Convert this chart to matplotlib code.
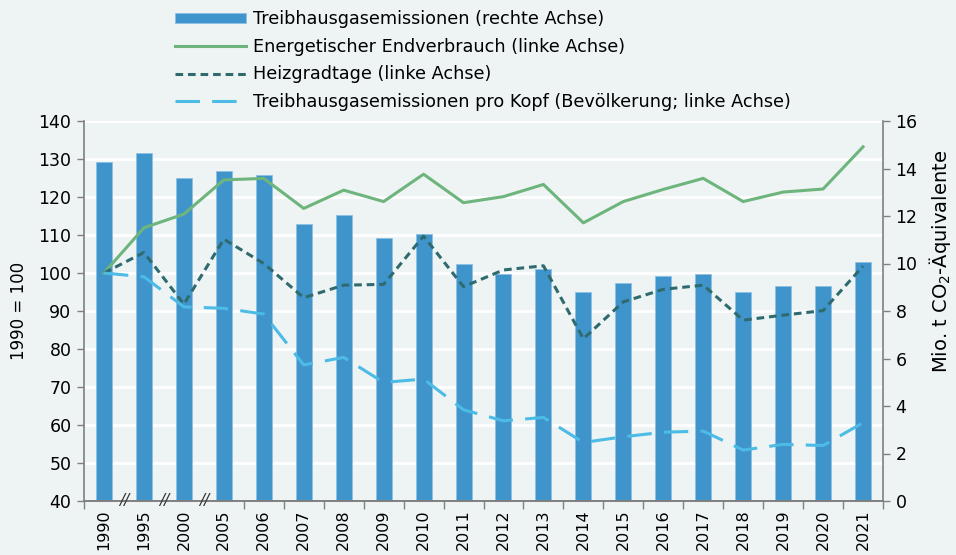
import matplotlib
matplotlib.use("Agg")
import matplotlib.pyplot as plt
import numpy as np

years = ["1990", "1995", "2000", "2005", "2006", "2007", "2008", "2009", "2010", "2011",
         "2012", "2013", "2014", "2015", "2016", "2017", "2018", "2019", "2020", "2021"]
emissions = [14.29, 14.65, 13.59, 13.89, 13.71, 11.66, 12.06, 11.06, 11.23, 10.0,
             9.54, 9.77, 8.81, 9.17, 9.47, 9.56, 8.8, 9.07, 9.07, 10.06]
endverbrauch = [100.0, 111.9, 115.5, 124.5, 124.9, 117.0, 121.8, 118.8, 126.0, 118.5,
                120.1, 123.3, 113.2, 118.8, 122.0, 124.9, 118.8, 121.3, 122.1, 133.2]
heizgradtage = [100.0, 105.4, 91.8, 108.9, 102.5, 93.5, 96.8, 97.0, 109.7, 96.4,
                100.8, 101.9, 82.7, 92.4, 95.7, 96.8, 87.6, 88.9, 90.1, 101.8]
pro_kopf = [100.0, 99.0, 91.1, 90.7, 89.2, 75.8, 77.8, 71.2, 72.1, 64.0,
            61.1, 62.0, 55.4, 56.9, 58.1, 58.4, 53.4, 54.9, 54.6, 60.6]
left_ticks = [40, 50, 60, 70, 80, 90, 100, 110, 120, 130, 140]
right_ticks = [0, 2, 4, 6, 8, 10, 12, 14, 16]

BG = "#EEF4F4"
BAR = "#3F95CB"
GREEN = "#6DB57C"
DARK = "#2F6B6E"
LIGHT = "#4CBBE6"
SPINE = "#7F7F7F"

plt.rcParams['font.family'] = ['DejaVu Sans']

fig = plt.figure(figsize=(9.56, 5.55), dpi=100, facecolor=BG)
ax = fig.add_axes([84/956, 54/555, 799/956, 380/555])
ax.set_facecolor(BG)
ax2 = ax.twinx()

x = np.arange(len(years))

bars = ax2.bar(x, emissions, width=0.4, color=BAR, edgecolor="#8CC0E3", linewidth=0.6,
               label="Treibhausgasemissionen (rechte Achse)", zorder=2)
ax2.set_ylim(0, 16)
ax2.set_yticks(right_ticks)

ax.set_zorder(ax2.get_zorder() + 1)
ax.patch.set_visible(False)
ax2.set_facecolor(BG)

for v in left_ticks:
    ax2.axhline((v - 40) / 100 * 16, color="white", lw=2, zorder=0)

l1, = ax.plot(x, endverbrauch, color=GREEN, lw=2.2, label="Energetischer Endverbrauch (linke Achse)")
l2, = ax.plot(x, heizgradtage, color=DARK, lw=2.2, dashes=(2.5, 1.6),
              label="Heizgradtage (linke Achse)")
l3, = ax.plot(x, pro_kopf, color=LIGHT, lw=2.2, dashes=(8, 4),
              label="Treibhausgasemissionen pro Kopf (Bevölkerung; linke Achse)")

ax.set_ylim(40, 140)
ax.set_yticks(left_ticks)
ax.set_xlim(-0.5, len(years) - 0.5)
ax.set_xticks(x)
ax.set_xticklabels(years, rotation=90, fontsize=11.5)
ax.tick_params(axis='x', length=0, pad=6)
minor = [-0.5] + [i + 0.5 for i in range(3, len(years))]
ax.set_xticks(minor, minor=True)
ax.tick_params(axis='x', which='minor', length=6, color=SPINE, width=1)
ax.tick_params(axis='y', labelsize=12.5, length=5, color=SPINE, width=1, pad=4)
ax2.tick_params(axis='y', labelsize=12.5, length=5, color=SPINE, width=1, pad=4)

for a in (ax, ax2):
    a.spines["top"].set_visible(False)
    for s in ("left", "right", "bottom"):
        a.spines[s].set_color(SPINE)
        a.spines[s].set_linewidth(1.2)
ax.spines["right"].set_visible(False)
ax2.spines["left"].set_visible(False)

for bx in (0.5, 1.5, 2.5):
    ax.text(bx, 40, "//", ha="center", va="center", fontsize=11, color="#333333",
            style="italic", transform=ax.transData, clip_on=False, zorder=10)

ax.set_ylabel("1990 = 100", fontsize=12)
ax.yaxis.set_label_coords(-0.07, 0.5)
ax2.set_ylabel("Mio. t CO$_2$-Äquivalente", fontsize=14)
ax2.yaxis.set_label_coords(1.055, 0.63)

handles = [bars, l1, l2, l3]
labels = [h.get_label() for h in handles]
leg = fig.legend(handles, labels, loc="upper left", bbox_to_anchor=(175/956, 1 - 10/555),
                 frameon=False, fontsize=12.7,
                 handlelength=4.0, handletextpad=0.45, handleheight=0.5,
                 labelspacing=0.55, borderaxespad=0, borderpad=0)

fig.savefig("out.png", dpi=100, facecolor=BG)
